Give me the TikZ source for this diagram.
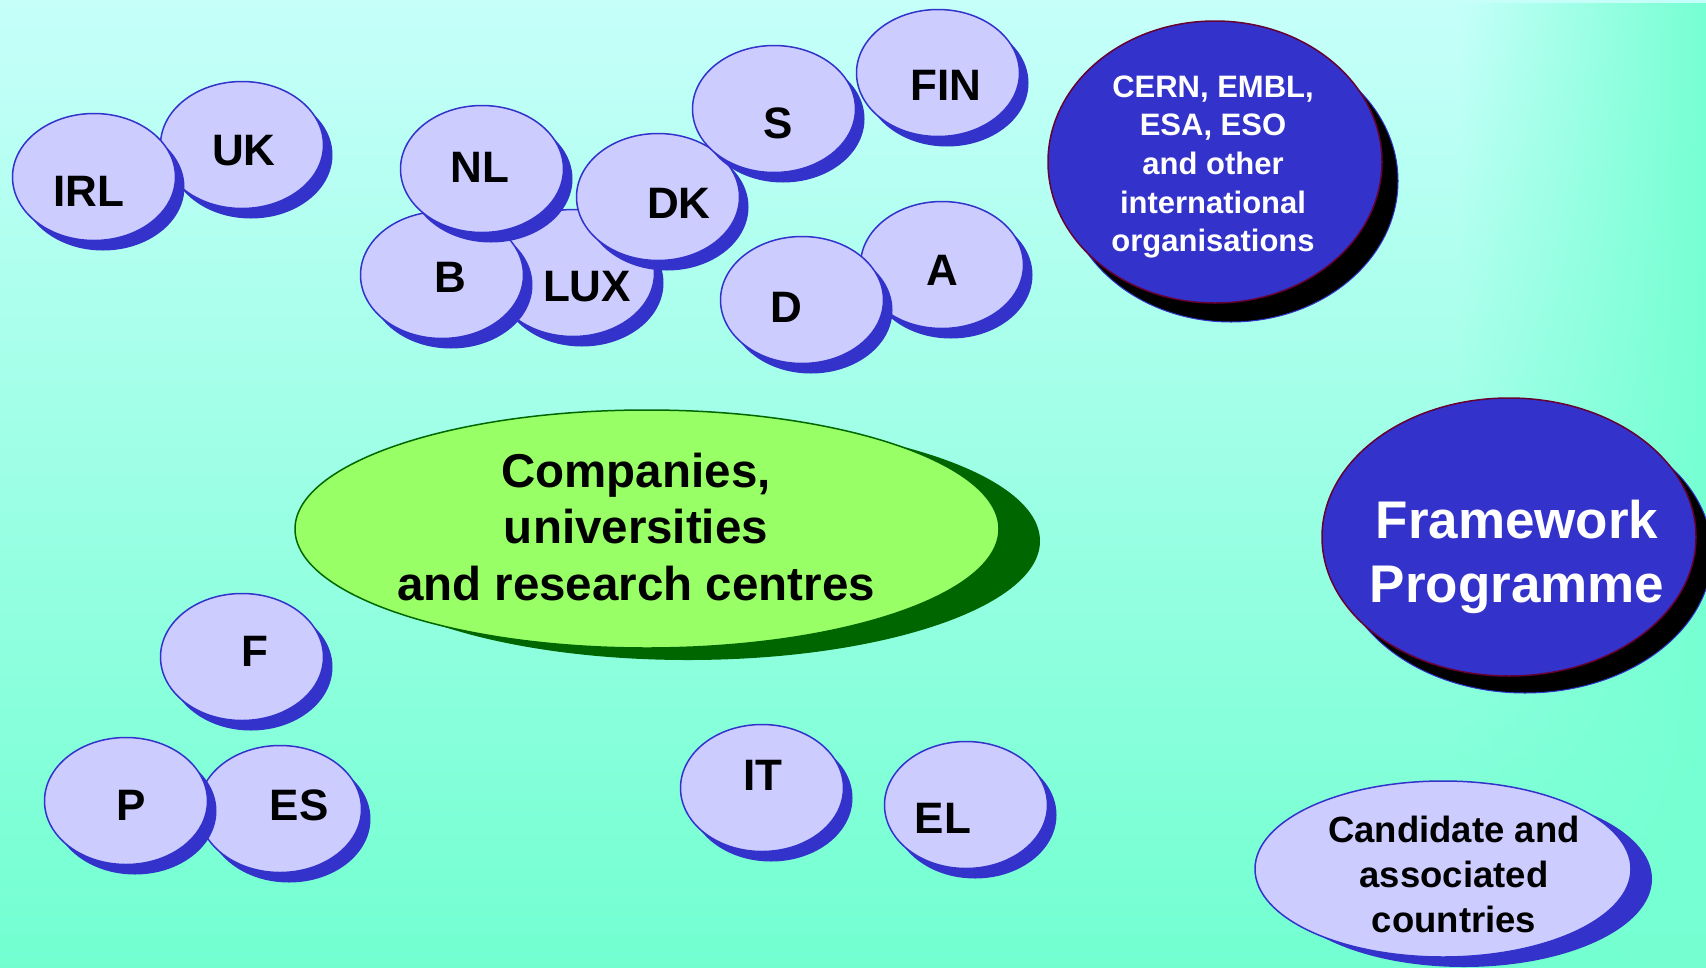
\documentclass[tikz,border=0pt]{standalone}
\usepackage{fontspec}
\setmainfont{Liberation Sans}
\usetikzlibrary{fadings}
\definecolor{bgtop}{HTML}{C6FFFA}
\definecolor{bgbot}{HTML}{72FFD0}
\definecolor{bgright}{HTML}{76FFD2}
\definecolor{lav}{HTML}{CCCCFF}
\definecolor{royal}{HTML}{3333CC}
\definecolor{lime}{HTML}{99FF66}
\definecolor{dgreen}{HTML}{006600}
\definecolor{maroon}{HTML}{660033}
\tikzset{
  smallface/.style={draw=royal, line width=1.5pt, fill=lav},
  smallshadow/.style={fill=royal},
  lbl/.style={font=\fontsize{44}{44}\selectfont\bfseries, inner sep=0pt, anchor=base},
  bigface/.style={draw=maroon, line width=1.5pt, fill=royal},
  bigshadow/.style={draw=royal, line width=1pt, fill=black},
  greenface/.style={draw=dgreen, line width=1.5pt, fill=lime},
  greenshadow/.style={fill=dgreen},
}
\newcommand\blob[6]{%
  \fill[smallshadow] (#2+9,#3+10) ellipse [x radius=81.5, y radius=63.5];
  \draw[smallface] (#2,#3) ellipse [x radius=81.5, y radius=63.5];
  \node[lbl] (#1) at (#4,#5) {#6};
}
\begin{document}
\begin{tikzpicture}[x=1pt,y=-1pt]
\useasboundingbox (0,0) rectangle (1706,967);
\shade[top color=bgtop, bottom color=bgbot] (0,0) rectangle (1706,967);
\fill[bgright, path fading=west] (1460,0) rectangle (1706,967);

% country ellipses (drawing order gives stacking)
\blob{UK}{242}{145}{244}{165}{UK}
\blob{IRL}{94}{177}{89}{206}{IRL}
\blob{LUX}{573}{273}{587}{301}{LUX}
\blob{B}{442}{275}{450}{292}{B}
\blob{NL}{482}{169}{480}{182}{NL}
\blob{DK}{658}{197}{679}{218}{DK}
\blob{S}{774}{109}{778}{138}{S}
\blob{FIN}{938}{73}{946}{100}{FIN}
\blob{A}{942}{265}{942}{285}{A}
\blob{D}{802}{300}{786}{322}{D}
\blob{F}{242}{657}{255}{666}{F}
\blob{ES}{280}{809}{299}{820}{ES}
\blob{P}{126}{801}{131}{820}{P}
\blob{IT}{762}{788}{763}{790}{IT}
\blob{EL}{966}{805}{943}{833}{EL}

% companies
\fill[greenshadow] (688,541) ellipse [x radius=352, y radius=119];
\draw[greenface] (647,529) ellipse [x radius=352, y radius=119];
\node[font=\fontsize{47.5}{56.5}\selectfont\bfseries, align=center, inner sep=0pt] (comp) at (636,527)
  {Companies,\\universities\\and research centres};

% international organisations
\draw[bigshadow] (1231,181) ellipse [x radius=167, y radius=141];
\draw[bigface] (1215,162) ellipse [x radius=167, y radius=141];
\node[font=\fontsize{31}{38.6}\selectfont\bfseries, text=white, align=center, inner sep=0pt] (intl) at (1213,167)
  {CERN, EMBL,\\ESA, ESO\\and other\\international\\organisations};

% framework programme
\draw[bigshadow] (1525,554) ellipse [x radius=187, y radius=139];
\draw[bigface] (1509,537) ellipse [x radius=187, y radius=139];
\node[font=\fontsize{53}{64}\selectfont\bfseries, text=white, align=center, inner sep=0pt] (fp) at (1517,557)
  {Framework\\Programme};

% candidate countries
\fill[smallshadow] (1464,879) ellipse [x radius=188, y radius=88];
\draw[smallface] (1443,869) ellipse [x radius=188, y radius=88];
\node[font=\fontsize{36.5}{45}\selectfont\bfseries, align=center, inner sep=0pt] (cand) at (1454,874)
  {Candidate and\\associated\\countries};
\end{tikzpicture}
\end{document}
